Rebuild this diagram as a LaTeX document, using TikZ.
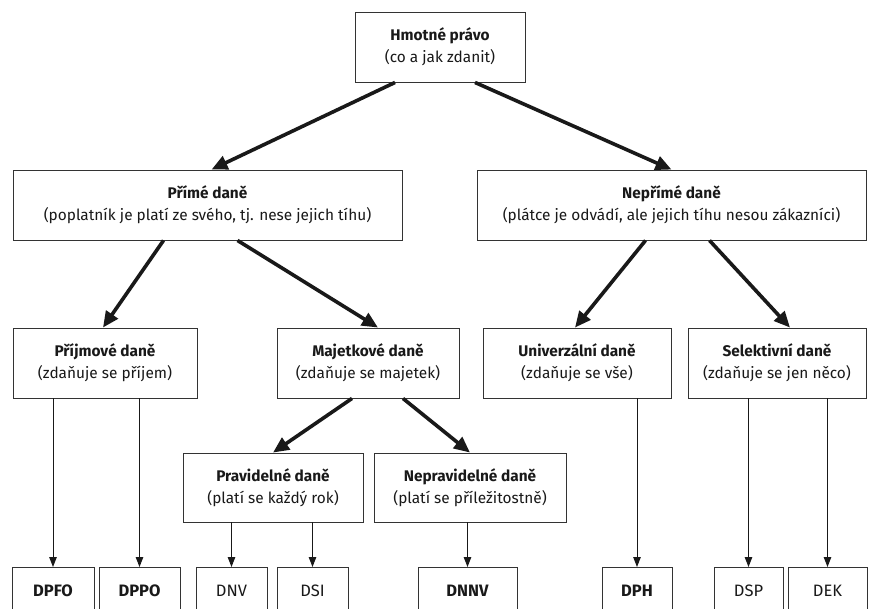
\documentclass[tikz,border=0pt]{standalone}
\usepackage{fontspec}
\setmainfont{Fira Sans}
\usetikzlibrary{arrows.meta}
\begin{document}
\begin{tikzpicture}[x=1pt,y=-1pt,
  box/.style={draw=black!80, line width=0.9pt, align=center, inner sep=0pt,
    font=\fontsize{15.4}{22}\selectfont, text=black!90, minimum height=70},
  leaf/.style={box, anchor=north, minimum height=46, font=\fontsize{16.5}{20}\selectfont},
  bigarr/.style={line width=3.6pt, draw=black!90, -{Triangle[length=16pt,width=14pt]}},
  smallarr/.style={line width=1pt, draw=black!90, -{Triangle[length=10pt,width=7.5pt]}},
]
\useasboundingbox[fill=white] (0,0) rectangle (869,608);
\clip (0,0) rectangle (869,608);

% level 1
\node[box, minimum width=170] (top) at (440,47) {\textbf{Hmotné právo}\\(co a jak zdanit)};
% level 2
\node[box, minimum width=389] (prime) at (207.5,205) {\textbf{Přímé daně}\\(poplatník je platí ze svého, tj. nese jejich tíhu)};
\node[box, minimum width=389] (neprime) at (671.5,205) {\textbf{Nepřímé daně}\\(plátce je odvádí, ale jejich tíhu nesou zákazníci)};
% level 3
\node[box, minimum width=184] (prijm) at (105,363) {\textbf{Příjmové daně}\\(zdaňuje se příjem)};
\node[box, minimum width=182] (majet) at (368,363) {\textbf{Majetkové daně}\\(zdaňuje se majetek)};
\node[box, minimum width=188] (univ) at (577,363) {\textbf{Univerzální daně}\\(zdaňuje se vše)};
\node[box, minimum width=178] (selekt) at (777,363) {\textbf{Selektivní daně}\\(zdaňuje se jen něco)};
% level 4
\node[box, minimum width=180, minimum height=69] (prav) at (273,487.5) {\textbf{Pravidelné daně}\\(platí se každý rok)};
\node[box, minimum width=192, minimum height=69] (neprav) at (470,487.5) {\textbf{Nepravidelné daně}\\(platí se příležitostně)};
% leaves
\node[leaf, minimum width=82] (dpfo) at (53,567) {\textbf{DPFO}};
\node[leaf, minimum width=81] (dppo) at (139.5,567) {\textbf{DPPO}};
\node[leaf, minimum width=71] (dnv) at (231.5,567) {DNV};
\node[leaf, minimum width=71] (dsi) at (312.5,567) {DSI};
\node[leaf, minimum width=99] (dnnv) at (467.5,567) {\textbf{DNNV}};
\node[leaf, minimum width=70] (dph) at (637,567) {\textbf{DPH}};
\node[leaf, minimum width=69] (dsp) at (748.5,567) {DSP};
\node[leaf, minimum width=79] (dek) at (827.5,567) {DEK};

% thick arrows
\draw[bigarr] ([xshift=-45]top.south) -- ([xshift=4]prime.north);
\draw[bigarr] ([xshift=35]top.south) -- (neprime.north);
\draw[bigarr] ([xshift=-44]prime.south) -- ([xshift=-2]prijm.north);
\draw[bigarr] ([xshift=30]prime.south) -- ([xshift=10]majet.north);
\draw[bigarr] ([xshift=-26]neprime.south) -- ([xshift=-2]univ.north);
\draw[bigarr] ([xshift=38]neprime.south) -- ([xshift=13]selekt.north);
\draw[bigarr] ([xshift=-16]majet.south) -- (prav.north);
\draw[bigarr] ([xshift=35]majet.south) -- (neprav.north);

% thin arrows
\draw[smallarr] (prijm.south -| dpfo.north) -- (dpfo.north);
\draw[smallarr] (prijm.south -| dppo.north) -- (dppo.north);
\draw[smallarr] (prav.south -| dnv.north) -- (dnv.north);
\draw[smallarr] (prav.south -| dsi.north) -- (dsi.north);
\draw[smallarr] (neprav.south -| dnnv.north) -- (dnnv.north);
\draw[smallarr] (univ.south -| dph.north) -- (dph.north);
\draw[smallarr] (selekt.south -| dsp.north) -- (dsp.north);
\draw[smallarr] (selekt.south -| dek.north) -- (dek.north);
\end{tikzpicture}
\end{document}
